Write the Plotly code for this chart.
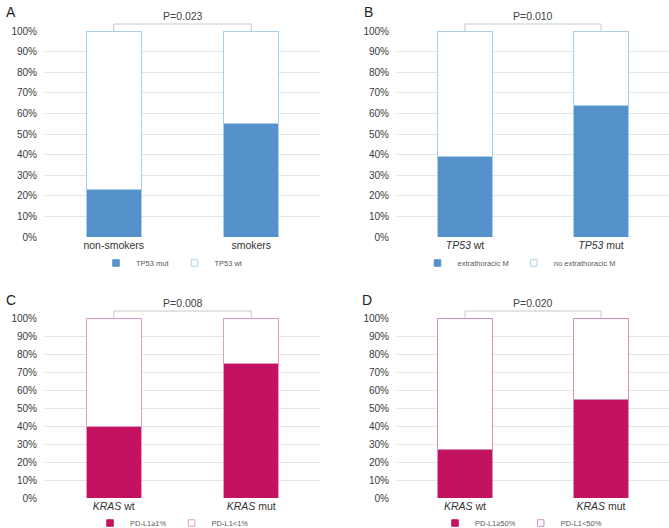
import plotly.graph_objects as go

W, H = 669, 528

# ---------------- data ----------------
A_categories = ["non-smokers", "smokers"]
A_tp53_mut = [0.23, 0.55]
A_tp53_wt = [0.77, 0.45]
A_p = "P=0.023"

B_categories = ["<i>TP53</i> wt", "<i>TP53</i> mut"]
B_extra = [0.39, 0.64]
B_no_extra = [0.61, 0.36]
B_p = "P=0.010"

C_categories = ["<i>KRAS</i> wt", "<i>KRAS</i> mut"]
C_pdl1_pos = [0.40, 0.75]
C_pdl1_neg = [0.60, 0.25]
C_p = "P=0.008"

D_categories = ["<i>KRAS</i> wt", "<i>KRAS</i> mut"]
D_pdl1_pos = [0.27, 0.55]
D_pdl1_neg = [0.73, 0.45]
D_p = "P=0.020"

y_ticks = [i / 10 for i in range(11)]

# ---------------- styles ----------------
BLUE = "#5592CB"
BLUE_LINE = "#A9CFEA"
RED = "#C3125F"
PINK_LINE_C = "#E89AC7"
PINK_LINE_D = "#CF92BE"
TXT = "#595959"
GRID = "#E4E4E4"
FONT = "Liberation Sans, Arial, sans-serif"

def px_x(p):
    return p / W

def px_y(p):
    return 1 - p / H

panels = [
    dict(ax="", cats=A_categories, bottom=A_tp53_mut, top=A_tp53_wt,
         names=("TP53 mut", "TP53 wt"), fill=BLUE, line=BLUE_LINE, p=A_p,
         xdom=(45, 320), ydom=(237, 31), legend="legend", letter="A",
         letter_xy=(4, 12), legend_xy=(172, 263)),
    dict(ax="2", cats=B_categories, bottom=B_extra, top=B_no_extra,
         names=("extrathoracic M", "no extrathoracic M"), fill=BLUE, line=BLUE_LINE, p=B_p,
         xdom=(397, 669), ydom=(237, 31), legend="legend2", letter="B",
         letter_xy=(362, 12), legend_xy=(519, 263)),
    dict(ax="3", cats=C_categories, bottom=C_pdl1_pos, top=C_pdl1_neg,
         names=("PD-L1≥1%", "PD-L1<1%"), fill=RED, line=PINK_LINE_C, p=C_p,
         xdom=(45, 320), ydom=(498, 318), legend="legend3", letter="C",
         letter_xy=(4, 300), legend_xy=(172, 523)),
    dict(ax="4", cats=D_categories, bottom=D_pdl1_pos, top=D_pdl1_neg,
         names=("PD-L1≥50%", "PD-L1<50%"), fill=RED, line=PINK_LINE_D, p=D_p,
         xdom=(397, 669), ydom=(498, 318), legend="legend4", letter="D",
         letter_xy=(360, 300), legend_xy=(521, 523)),
]

fig = go.Figure()
layout = dict(
    width=W, height=H, margin=dict(l=0, r=0, t=0, b=0, autoexpand=False),
    paper_bgcolor="white", plot_bgcolor="white",
    barmode="stack", bargap=0.6, showlegend=True,
    font=dict(family=FONT, color=TXT, size=10),
    shapes=[], annotations=[],
)

for pn in panels:
    xa = "x" + pn["ax"]
    ya = "y" + pn["ax"]
    fig.add_trace(go.Bar(x=pn["cats"], y=pn["bottom"], xaxis=xa, yaxis=ya,
                         marker=dict(color=pn["fill"], line=dict(color=pn["line"], width=1)),
                         showlegend=False, hoverinfo="skip", cliponaxis=False))
    fig.add_trace(go.Bar(x=pn["cats"], y=pn["top"], xaxis=xa, yaxis=ya,
                         marker=dict(color="white", line=dict(color=pn["line"], width=1)),
                         showlegend=False, hoverinfo="skip", cliponaxis=False))
    # legend entries
    fig.add_trace(go.Scatter(x=[None], y=[None], xaxis=xa, yaxis=ya, mode="markers",
                             name=pn["names"][0], legend=pn["legend"],
                             marker=dict(symbol="square", size=6.5, color=pn["fill"],
                                         line=dict(color=pn["fill"], width=1))))
    fig.add_trace(go.Scatter(x=[None], y=[None], xaxis=xa, yaxis=ya, mode="markers",
                             name=pn["names"][1], legend=pn["legend"],
                             marker=dict(symbol="square", size=6.5, color="white",
                                         line=dict(color=pn["line"], width=1))))

    xkey = "xaxis" + pn["ax"]
    ykey = "yaxis" + pn["ax"]
    layout[xkey] = dict(domain=[px_x(pn["xdom"][0]), px_x(pn["xdom"][1])],
                        anchor=ya, type="category", showgrid=False, showline=False,
                        zeroline=False, ticks="", tickfont=dict(size=10.5, color="#333333"),
                        fixedrange=True, automargin=False, ticklabelstandoff=0)
    layout[ykey] = dict(domain=[px_y(pn["ydom"][0]), px_y(pn["ydom"][1])],
                        anchor=xa, range=[0, 1], tickvals=y_ticks, tickformat=".0%",
                        showgrid=True, gridcolor=GRID, gridwidth=1, zeroline=False,
                        showline=False, ticks="", ticklabelstandoff=7, automargin=False,
                        tickfont=dict(size=10, color="#3a3a3a"), fixedrange=True)

    # significance bracket
    bracket_h = 7 / (pn["ydom"][0] - pn["ydom"][1])
    layout["shapes"].append(dict(
        type="path", xref=xa, yref=ya + " domain",
        path=f"M 0,1.0 L 0,{1 + bracket_h} L 1,{1 + bracket_h} L 1,1.0",
        line=dict(color="#C8C8C8", width=1)))
    layout["annotations"].append(dict(
        xref=xa, yref=ya + " domain", x=0.5, y=1 + bracket_h, yanchor="bottom",
        text=pn["p"], showarrow=False, font=dict(size=10.5, color="#444444"), yshift=0))
    # panel letter
    layout["annotations"].append(dict(
        xref="paper", yref="paper", x=px_x(pn["letter_xy"][0]), y=px_y(pn["letter_xy"][1]),
        xanchor="left", yanchor="middle", text=pn["letter"], showarrow=False,
        font=dict(size=14, color="#222222")))
    layout[pn["legend"]] = dict(
        orientation="h", xref="container", yref="container",
        x=px_x(pn["legend_xy"][0]), y=px_y(pn["legend_xy"][1]),
        xanchor="center", yanchor="middle", font=dict(size=7.5, color=TXT),
        bgcolor="rgba(0,0,0,0)", itemwidth=30, tracegroupgap=0, traceorder="normal",
        itemclick=False, itemdoubleclick=False)

fig.update_layout(**layout)
fig.write_html("out.html", config={"displayModeBar": False, "staticPlot": False})

# remove the browser's default page margin so the figure sits at the window's corner
with open("out.html", encoding="utf-8") as f:
    html = f.read()
html = html.replace("<body>", '<body style="margin:0;padding:0;overflow:hidden;">', 1)
with open("out.html", "w", encoding="utf-8") as f:
    f.write(html)
